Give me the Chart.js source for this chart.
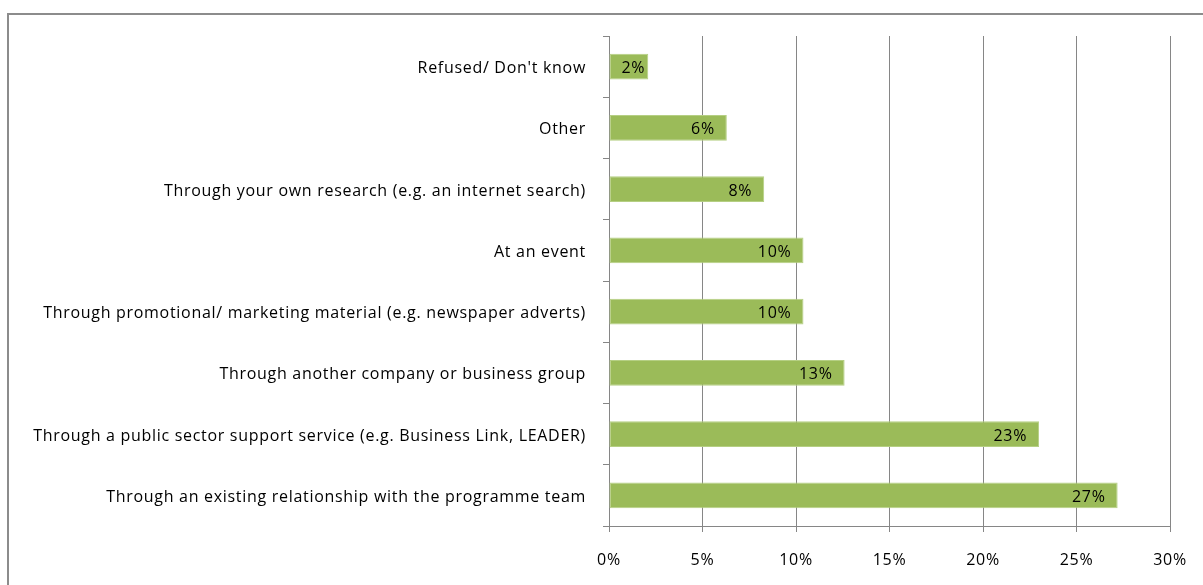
<!DOCTYPE html>
<html>
<head>
<meta charset="utf-8">
<script src="https://cdn.jsdelivr.net/npm/chart.js@4"></script>
<style>
  html, body { margin: 0; padding: 0; background: #fff; overflow: hidden; }
  #wrap { position: relative; width: 1203px; height: 585px; }
  #frame {
    position: absolute; left: 7px; top: 13px; width: 1210px; height: 590px;
    border-left: 2px solid #8c8c8c; border-top: 2px solid #8c8c8c;
  }
  canvas { position: absolute; left: 0; top: 0; }
</style>
</head>
<body>
<div id="wrap">
  <div id="frame"></div>
  <canvas id="myChart" width="1203" height="585"></canvas>
</div>
<script>
const labels = [
  "Refused/ Don't know",
  "Other",
  "Through your own research (e.g. an internet search)",
  "At an event",
  "Through promotional/ marketing material (e.g. newspaper adverts)",
  "Through another company or business group",
  "Through a public sector support service (e.g. Business Link, LEADER)",
  "Through an existing relationship with the programme team",
];
const shares = [2.1, 6.3, 8.3, 10.4, 10.4, 12.6, 23.0, 27.2];
const xTicks = [0, 5, 10, 15, 20, 25, 30];

const FONT = "'Open Sans', 'Liberation Sans', sans-serif";
const gridGray = "#868686";

// slightly wider letter spacing for all chart text
const spacing = {
  id: "spacing",
  beforeDraw(chart) {
    chart.ctx.letterSpacing = "0.7px";
  },
};

// value labels drawn at the inside end of each bar
const barLabels = {
  id: "barLabels",
  afterDatasetsDraw(chart) {
    const { ctx } = chart;
    const meta = chart.getDatasetMeta(0);
    ctx.save();
    ctx.font = "16px " + FONT;
    ctx.fillStyle = "#000";
    ctx.textAlign = "right";
    ctx.textBaseline = "middle";
    meta.data.forEach((bar, i) => {
      const txt = Math.round(shares[i]) + "%";
      const w = ctx.measureText(txt).width;
      const x = Math.max(bar.x - 12, bar.base + 12 + w);
      ctx.fillText(txt, x, bar.y + 2);
    });
    ctx.restore();
  },
};

const ctx = document.getElementById("myChart");

new Chart(ctx, {
  type: "bar",
  data: {
    labels,
    datasets: [
      {
        data: shares,
        backgroundColor: "#9BBB59",
        borderColor: "#b5cf83",
        borderWidth: 1,
        borderSkipped: false,
        barPercentage: 0.42,
        categoryPercentage: 1,
      },
    ],
  },
  plugins: [spacing, barLabels],
  options: {
    indexAxis: "y",
    responsive: false,
    animation: false,
    layout: { padding: { top: 36, right: 33, left: 0, bottom: 0 } },
    plugins: { legend: { display: false }, tooltip: { enabled: false } },
    scales: {
      x: {
        min: 0,
        max: 30,
        afterBuildTicks(scale) {
          scale.ticks = xTicks.map((v) => ({ value: v }));
        },
        afterFit(scale) {
          scale.height = 59;
          // keep the plot edges fixed regardless of tick label overhang
          scale.paddingLeft = 0;
          scale.paddingRight = 0;
        },
        grid: {
          color: gridGray,
          lineWidth: 1,
          tickLength: 6,
          drawTicks: true,
        },
        border: { color: gridGray, width: 1 },
        ticks: {
          padding: 19,
          color: "#000",
          font: { family: FONT, size: 16 },
          callback: (v) => v + "%",
        },
      },
      y: {
        afterFit(scale) {
          scale.width = 609;
        },
        grid: {
          offset: true,
          drawOnChartArea: false,
          color: gridGray,
          tickLength: 6,
        },
        border: { color: gridGray, width: 1 },
        ticks: {
          padding: 17,
          labelOffset: 2,
          color: "#000",
          font: { family: FONT, size: 16 },
        },
      },
    },
  },
});
</script>
</body>
</html>
